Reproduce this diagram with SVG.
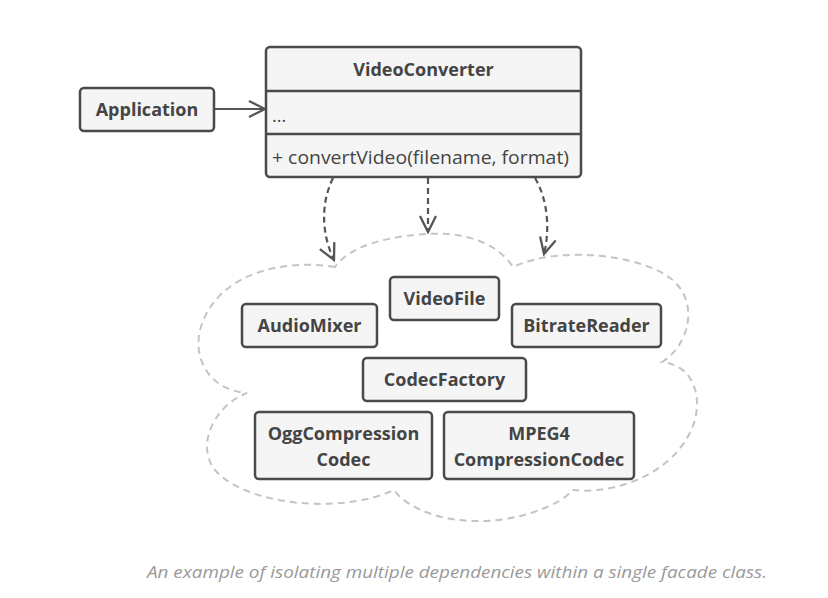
<svg xmlns="http://www.w3.org/2000/svg" width="828" height="598" viewBox="0 0 828 598">
<style>
.box{fill:#f5f5f5;stroke:#4a4a4a;stroke-width:2.5}
.lbl{font-family:"Open Sans","Liberation Sans",sans-serif;font-weight:bold;font-size:18px;fill:#444;text-anchor:middle}
.mem{font-family:"Open Sans","Liberation Sans",sans-serif;font-size:18px;fill:#444}
.dep{fill:none;stroke:#555;stroke-width:2.2;stroke-dasharray:6 4}
.cloud{fill:none;stroke:#c4c4c4;stroke-width:2;stroke-dasharray:7 5}
.cap{font-family:"Open Sans","Liberation Sans",sans-serif;font-style:italic;font-size:16.5px;fill:#9a9a9a}
</style>
<defs>
<marker id="open" viewBox="0 0 20 20" refX="18" refY="10" markerWidth="20" markerHeight="20" markerUnits="userSpaceOnUse" orient="auto">
<path d="M2,2 L18,10 L2,18" fill="none" stroke="#555" stroke-width="2.3"/>
</marker>
</defs>
<rect width="828" height="598" fill="#fff"/>
<path class="cloud" d="M335,267 C280,258 215,275 200,330 C193,360 210,390 247,393 C215,405 195,445 215,470 C245,505 340,515 394,490 C410,512 450,522 480,521 C520,521 560,505 573,490 C620,495 680,470 695,420 C702,390 690,365 662,362 C690,345 700,300 670,278 C640,255 560,245 513,267 C495,240 460,232 428,234 C390,236 350,245 335,267 Z"/>
<g id="connectors">
<path d="M214,109 L265,109" fill="none" stroke="#555" stroke-width="2.2" marker-end="url(#open)"/>
<path class="dep" d="M333,178 C320,205 322,235 334,260" marker-end="url(#open)"/>
<path class="dep" d="M428,178 L428,232" marker-end="url(#open)"/>
<path class="dep" d="M535,178 C548,200 550,230 544,254" marker-end="url(#open)"/>
</g>
<g id="VideoConverter">
<rect class="box" x="266" y="47" width="315" height="130" rx="4"/>
<line x1="266" y1="91" x2="581" y2="91" stroke="#4a4a4a" stroke-width="2.5"/>
<line x1="266" y1="134" x2="581" y2="134" stroke="#4a4a4a" stroke-width="2.5"/>
<text class="lbl" x="423.5" y="76">VideoConverter</text>
<text class="mem" x="272" y="122">...</text>
<text class="mem" x="272" y="164" textLength="297" lengthAdjust="spacingAndGlyphs">+ convertVideo(filename, format)</text>
</g>
<g id="Application">
<rect class="box" x="80" y="88" width="134" height="43" rx="4"/>
<text class="lbl" x="147" y="116">Application</text>
</g>
<g id="VideoFile">
<rect class="box" x="390" y="277" width="109" height="43" rx="4"/>
<text class="lbl" x="444.5" y="305">VideoFile</text>
</g>
<g id="AudioMixer">
<rect class="box" x="242" y="304" width="135" height="43" rx="4"/>
<text class="lbl" x="309.5" y="332">AudioMixer</text>
</g>
<g id="BitrateReader">
<rect class="box" x="512" y="304" width="149" height="43" rx="4"/>
<text class="lbl" x="586.5" y="332">BitrateReader</text>
</g>
<g id="CodecFactory">
<rect class="box" x="363" y="358" width="163" height="43" rx="4"/>
<text class="lbl" x="444.5" y="386">CodecFactory</text>
</g>
<g id="OggCompressionCodec">
<rect class="box" x="255" y="412" width="177" height="67" rx="4"/>
<text class="lbl" x="343.5" y="440">OggCompression</text>
<text class="lbl" x="343.5" y="466">Codec</text>
</g>
<g id="MPEG4CompressionCodec">
<rect class="box" x="444" y="412" width="190" height="67" rx="4"/>
<text class="lbl" x="539" y="440">MPEG4</text>
<text class="lbl" x="539" y="466">CompressionCodec</text>
</g>
<text class="cap" x="147" y="578" textLength="620" lengthAdjust="spacingAndGlyphs">An example of isolating multiple dependencies within a single facade class.</text>
</svg>
